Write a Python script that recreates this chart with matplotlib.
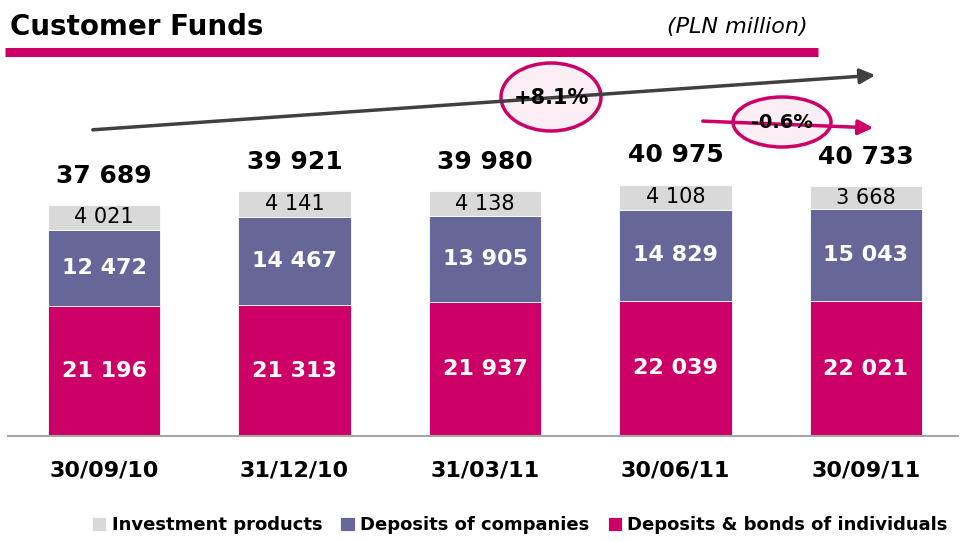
import numpy as np
import matplotlib.pyplot as plt
from matplotlib.patches import Ellipse

# data (PLN million)
dates = ['30/09/10', '31/12/10', '31/03/11', '30/06/11', '30/09/11']
individuals = [21196, 21313, 21937, 22039, 22021]
companies = [12472, 14467, 13905, 14829, 15043]
investment = [4021, 4141, 4138, 4108, 3668]
totals = [37689, 39921, 39980, 40975, 40733]

c_ind = '#CC0066'
c_comp = '#666699'
c_inv = '#D9D9D9'

def fmt(v):
    return '{:,}'.format(v).replace(',', ' ')

W, H = 964, 542
fig = plt.figure(figsize=(W / 100, H / 100), dpi=100)

# main axes: bottom at y=436px, 300px tall
ax = fig.add_axes([8 / W, (H - 436) / H, 950 / W, 300 / H])
ax.set_xlim(-0.504, 4.483)
ax.set_ylim(0, 48940)

x = np.arange(len(dates))
w = 0.588
b1 = ax.bar(x, individuals, w, color=c_ind, label='Deposits & bonds of individuals',
            edgecolor='white', linewidth=0.6)
b2 = ax.bar(x, companies, w, bottom=individuals, color=c_comp,
            label='Deposits of companies', edgecolor='white', linewidth=0.6)
bot3 = np.array(individuals) + np.array(companies)
b3 = ax.bar(x, investment, w, bottom=bot3, color=c_inv,
            label='Investment products', edgecolor='white', linewidth=0.6)

for i in range(len(x)):
    ax.text(x[i], individuals[i] / 2, fmt(individuals[i]), ha='center', va='center',
            color='white', fontsize=16, fontweight='bold')
    ax.text(x[i], individuals[i] + companies[i] / 2, fmt(companies[i]), ha='center',
            va='center', color='white', fontsize=16, fontweight='bold')
    ax.text(x[i], bot3[i] + investment[i] / 2, fmt(investment[i]), ha='center',
            va='center', color='black', fontsize=15)
    ax.text(x[i], totals[i] + 4800, fmt(totals[i]), ha='center', va='center',
            color='black', fontsize=18, fontweight='bold', clip_on=False)

for s in ['top', 'right', 'left']:
    ax.spines[s].set_visible(False)
ax.spines['bottom'].set_color('#A6A6A6')
ax.spines['bottom'].set_linewidth(1.5)
ax.set_yticks([])
ax.set_xticks(x)
ax.set_xticklabels(dates, fontsize=16, fontweight='bold')
ax.tick_params(axis='x', length=0, pad=18)

# overlay in pixel coordinates for title and growth arrows
ov = fig.add_axes([0, 0, 1, 1], zorder=5)
ov.set_xlim(0, W)
ov.set_ylim(H, 0)
ov.axis('off')
ov.patch.set_alpha(0)

ov.text(10, 27, 'Customer Funds', fontsize=20, fontweight='bold', va='center', ha='left')
ov.text(808, 27, '(PLN million)', fontsize=16, fontstyle='italic', va='center', ha='right')
ov.plot([5, 818], [51.5, 51.5], color=c_ind, lw=6.5, solid_capstyle='butt')

ov.annotate('', xy=(878, 75), xytext=(90, 130),
            arrowprops=dict(arrowstyle='-|>,head_length=0.9,head_width=0.45',
                            color='#404040', lw=2.5))
ov.add_patch(Ellipse((551, 97), 100, 68, facecolor='#FBEEF4', edgecolor=c_ind, lw=2.5))
ov.text(551, 98, '+8.1%', ha='center', va='center', fontsize=15, fontweight='bold')

ov.annotate('', xy=(876, 128), xytext=(700, 121),
            arrowprops=dict(arrowstyle='-|>,head_length=0.9,head_width=0.45',
                            color=c_ind, lw=2.5))
ov.add_patch(Ellipse((782, 122), 98, 50, facecolor='#FBEEF4', edgecolor=c_ind, lw=2.5))
ov.text(782, 123, '-0.6%', ha='center', va='center', fontsize=14, fontweight='bold')

fig.legend(handles=[b3, b2, b1],
           labels=['Investment products', 'Deposits of companies',
                   'Deposits & bonds of individuals'],
           loc='lower right', bbox_to_anchor=(1.0, -0.015), ncol=3, frameon=False,
           prop={'size': 13, 'weight': 'bold'}, handlelength=0.8, handleheight=0.8,
           handletextpad=0.3, columnspacing=1.0)

fig.savefig('out.png', dpi=100)
